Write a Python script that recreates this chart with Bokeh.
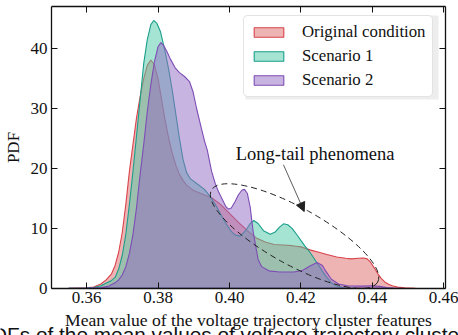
from bokeh.plotting import figure
from bokeh.models import (Legend, LegendItem, LinearAxis, FixedTicker, NumeralTickFormatter,
                          Label, Arrow, NormalHead, Range1d, BoxAnnotation)
from bokeh.embed import file_html
from bokeh.resources import INLINE

# ---------------- data ----------------
orig_x = [0.355, 0.360, 0.362, 0.364, 0.3655, 0.367, 0.368, 0.369, 0.370, 0.371, 0.372, 0.373,
          0.374, 0.375, 0.376, 0.377, 0.378, 0.379, 0.380, 0.381, 0.382, 0.383, 0.384, 0.385,
          0.386, 0.387, 0.388, 0.390, 0.3925, 0.395, 0.3975, 0.400, 0.4025, 0.405, 0.4075,
          0.410, 0.4125, 0.415, 0.4175, 0.420, 0.4225, 0.425, 0.4275, 0.430, 0.4325, 0.434,
          0.436, 0.4375, 0.4385, 0.4395, 0.4405, 0.4415, 0.4425, 0.4435, 0.4445, 0.4455,
          0.447, 0.449, 0.452]
orig_y = [0.0, 0.05, 0.2, 0.7, 1.4, 2.4, 3.8, 6.0, 9.3, 14.0, 19.5, 24.0,
          28.5, 32.0, 35.0, 37.2, 38.1, 37.3, 35.0, 31.5, 28.0, 25.0, 22.5, 20.5,
          19.0, 18.0, 17.2, 16.3, 15.7, 15.1, 14.0, 12.5, 11.0, 9.6, 8.4,
          7.7, 7.3, 7.2, 7.1, 6.9, 6.4, 6.0, 5.6, 5.2, 5.0, 4.9,
          5.0, 5.05, 4.9, 4.3, 3.4, 2.4, 1.6, 1.0, 0.65, 0.4,
          0.2, 0.07, 0.0]

s1_x = [0.355, 0.360, 0.362, 0.364, 0.366, 0.367, 0.368, 0.369, 0.370, 0.371, 0.372, 0.373,
        0.374, 0.375, 0.376, 0.377, 0.378, 0.3788, 0.3797, 0.3807, 0.382, 0.383, 0.384, 0.385,
        0.386, 0.387, 0.388, 0.389, 0.391, 0.393, 0.3947, 0.396, 0.3975, 0.399, 0.4003,
        0.4015, 0.403, 0.4045, 0.4058, 0.4068, 0.408, 0.4095, 0.4114, 0.4128, 0.4140,
        0.4151, 0.4163, 0.4175, 0.419, 0.421, 0.4225, 0.4244, 0.4268, 0.4285, 0.4296,
        0.432, 0.435]
s1_y = [0.0, 0.03, 0.1, 0.4, 1.0, 1.3, 1.8, 3.2, 5.5, 9.0, 14.0, 19.5,
        25.5, 31.5, 37.5, 41.5, 44.0, 44.7, 44.2, 42.8, 39.5, 36.5, 33.0, 29.0,
        25.0, 21.5, 19.3, 18.3, 17.4, 16.5, 15.2, 14.0, 12.4, 10.8, 9.6,
        8.9, 8.7, 9.6, 10.8, 11.3, 10.8, 9.6, 9.0, 9.4, 10.2,
        10.75, 10.6, 10.0, 8.8, 7.1, 6.0, 4.3, 2.1, 0.9, 0.45,
        0.08, 0.0]

s2_x = [0.355, 0.360, 0.364, 0.366, 0.368, 0.369, 0.370, 0.371, 0.372, 0.373, 0.374, 0.375,
        0.376, 0.377, 0.378, 0.379, 0.380, 0.3808, 0.3815, 0.3825, 0.3835, 0.3848, 0.386,
        0.3875, 0.3888, 0.3898, 0.3908, 0.392, 0.393, 0.3938, 0.395, 0.396, 0.397, 0.398,
        0.399, 0.3997, 0.4005, 0.4015, 0.4025, 0.4035, 0.4042, 0.405, 0.4058, 0.4066,
        0.4075, 0.408, 0.409, 0.411, 0.414, 0.418, 0.4205, 0.4225, 0.4245, 0.426, 0.427,
        0.4285, 0.4305, 0.433, 0.437, 0.440, 0.442, 0.444, 0.446, 0.448]
s2_y = [0.0, 0.02, 0.1, 0.3, 0.9, 1.4, 2.2, 3.6, 5.8, 9.0, 13.5, 19.0,
        24.0, 29.5, 34.0, 37.8, 40.3, 41.0, 40.6, 39.5, 38.2, 36.8, 36.0,
        35.3, 34.5, 32.8, 30.0, 27.0, 24.6, 23.0, 19.5, 17.5, 16.0, 14.8,
        13.6, 13.2, 13.4, 14.4, 15.6, 16.4, 16.5, 15.8, 13.5, 9.5,
        6.5, 4.8, 3.6, 2.9, 2.7, 2.7, 3.0, 3.7, 4.3, 3.8, 2.8,
        1.5, 0.7, 0.4, 0.35, 0.4, 0.3, 0.12, 0.03, 0.0]

series_names = ["Original condition", "Scenario 1", "Scenario 2"]
x_ticks = [0.36, 0.38, 0.40, 0.42, 0.44, 0.46]
y_ticks = [0, 10, 20, 30, 40]
caption = "PDFs of the mean values of voltage trajectory cluster features"

# axes box of the chart (data units)
X_LO, X_HI = 0.35021, 0.46042
Y_LO, Y_HI = 0.0, 47.03

fills = ["#dd6969", "#4bc9a5", "#9169c3"]
edges = ["#d9434b", "#1a9e8c", "#7d4db5"]

SERIF = "Liberation Serif"
INK = "#111111"

# the frame covers the whole canvas; the axes are drawn at fixed data locations
p = figure(width=458, height=335, output_backend="svg", toolbar_location=None,
           x_range=Range1d(0.335944, 0.464056), y_range=Range1d(-7.896, 48.03),
           x_axis_location=None, y_axis_location=None,
           min_border_left=0, min_border_right=0, min_border_top=0, min_border_bottom=0)
p.grid.visible = False
p.outline_line_color = None
p.background_fill_color = "white"
p.border_fill_color = "white"

items = []
for name, xs, ys, fc, lc in zip(series_names, [orig_x, s1_x, s2_x], [orig_y, s1_y, s2_y], fills, edges):
    r = p.patch(xs, ys, fill_color=fc, fill_alpha=0.5, line_color=lc, line_width=1.1)
    items.append(LegendItem(label=name, renderers=[r]))


def make_axis(ticks, loc, bounds, show_labels):
    ax = LinearAxis(fixed_location=loc, bounds=bounds, ticker=FixedTicker(ticks=ticks))
    ax.major_tick_in = 6
    ax.major_tick_out = 0
    ax.minor_tick_line_color = None
    ax.axis_line_color = INK
    ax.axis_line_width = 1.3
    ax.major_tick_line_color = INK
    ax.major_tick_line_width = 1.0
    if show_labels:
        ax.major_label_text_font = SERIF
        ax.major_label_text_font_size = "17px"
        ax.major_label_text_color = INK
        ax.major_label_standoff = 4
        ax.axis_label_text_font = SERIF
        ax.axis_label_text_font_size = "17.6px"
        ax.axis_label_text_font_style = "normal"
        ax.axis_label_text_color = INK
    else:
        ax.major_label_text_font_size = "0px"
        ax.major_label_text_color = None
        ax.major_label_standoff = 0
    return ax


xa = make_axis(x_ticks, Y_LO, (X_LO, X_HI), True)
xa.formatter = NumeralTickFormatter(format="0.00")
xa.axis_label = "Mean value of the voltage trajectory cluster features"
xa.axis_label_standoff = 3
p.add_layout(xa, "below")

ya = make_axis(y_ticks, X_LO, (Y_LO, Y_HI), True)
ya.axis_label = "PDF"
ya.axis_label_text_font_size = "17px"
ya.axis_label_standoff = 5
p.add_layout(ya, "left")

p.add_layout(make_axis(x_ticks, Y_HI, (X_LO, X_HI), False), "above")
p.add_layout(make_axis(y_ticks, X_HI, (Y_LO, Y_HI), False), "right")

# annotation: dashed ellipse, arrow, text
p.ellipse(x=[0.4182], y=[8.7], width=190, height=57, width_units="screen", height_units="screen",
          angle=-0.506, fill_color=None, line_color="#222222", line_width=1.0, line_dash="6 4")
p.add_layout(Arrow(end=NormalHead(size=9, fill_color="#222222", line_color="#222222"),
                   x_start=0.4151, y_start=20.6, x_end=0.4209, y_end=12.8,
                   line_color="#333333", line_width=0.8))
p.add_layout(Label(x=0.40176, y=22.44, text="Long-tail phenomena", text_font=SERIF,
                   text_font_size="18.5px", text_color=INK, text_baseline="alphabetic"))

# caption of the source figure, cropped at the bottom edge as in the reference
p.add_layout(Label(x=0.3297, y=-7.8, text=caption,
                   text_font="Liberation Sans", text_font_size="20.8px", text_color=INK,
                   text_baseline="alphabetic"))

# soft shadow behind the legend box
p.add_layout(BoxAnnotation(left=0.40448, right=0.45846, top=45.53, bottom=31.50,
                           fill_color="#909090", fill_alpha=0.16, line_color=None,
                           level="annotation"))

legend = Legend(items=items, location=(243, 238), margin=0, padding=6,
                glyph_width=37, glyph_height=12, label_standoff=15, spacing=4, label_height=17,
                label_text_font=SERIF, label_text_font_size="16.8px", label_text_color=INK,
                border_line_color="#c8c8c8", border_line_width=1.0,
                background_fill_color="white", background_fill_alpha=1.0)
try:
    legend.border_radius = 5
except Exception:
    pass
p.add_layout(legend)

open("out.html", "w").write(file_html(p, INLINE))
